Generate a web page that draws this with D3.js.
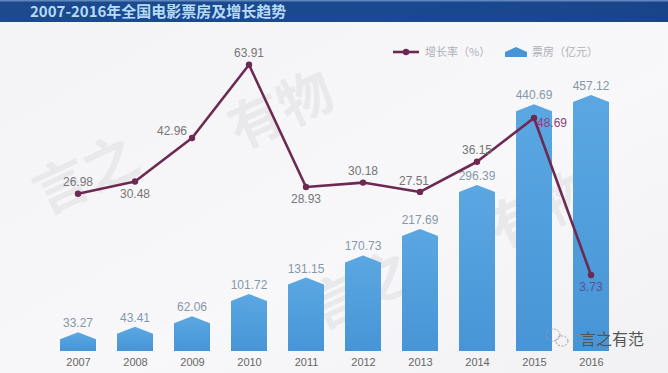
<!DOCTYPE html>
<html>
<head>
<meta charset="utf-8">
<script src="https://cdn.jsdelivr.net/npm/d3@7"></script>
<style>
  body { margin: 0; background: #f6f6f8; }
  svg { display: block; font-family: "Noto Sans CJK SC", "Liberation Sans", sans-serif; }
</style>
</head>
<body>
<div id="chart"></div>
<script>
// data
const years = ["2007","2008","2009","2010","2011","2012","2013","2014","2015","2016"];
const boxOffice = [33.27, 43.41, 62.06, 101.72, 131.15, 170.73, 217.69, 296.39, 440.69, 457.12];
const growth = [26.98, 30.48, 42.96, 63.91, 28.93, 30.18, 27.51, 36.15, 48.69, 3.73];
// where the growth label sits relative to its point
const growthLabelPos = ["above","below","left","above","below","above","aboveLeft","above","right","below"];

const W = 668, H = 373;
const numFont = "Liberation Sans, Arial, sans-serif";

const svg = d3.select("#chart").append("svg")
    .attr("width", W)
    .attr("height", H);

const defs = svg.append("defs");
const bg = defs.append("linearGradient").attr("id", "bg").attr("x1", 0).attr("x2", 1).attr("y1", 0).attr("y2", 1);
bg.append("stop").attr("offset", "0%").attr("stop-color", "#f3f2f5");
bg.append("stop").attr("offset", "60%").attr("stop-color", "#f8f8fa");
bg.append("stop").attr("offset", "100%").attr("stop-color", "#f1f1f3");

const barGrad = defs.append("linearGradient").attr("id", "barGrad").attr("x1", 0).attr("x2", 0).attr("y1", 0).attr("y2", 1);
barGrad.append("stop").attr("offset", "0%").attr("stop-color", "#5aa7e2");
barGrad.append("stop").attr("offset", "100%").attr("stop-color", "#4795d6");

const titleGrad = defs.append("linearGradient").attr("id", "titleGrad").attr("x1", 0).attr("x2", 1);
titleGrad.append("stop").attr("offset", "0%").attr("stop-color", "#1c4a8c");
titleGrad.append("stop").attr("offset", "60%").attr("stop-color", "#1a4991");
titleGrad.append("stop").attr("offset", "100%").attr("stop-color", "#19448a");

svg.append("rect").attr("width", W).attr("height", H).attr("fill", "url(#bg)");

// faint watermark characters
const wm = svg.append("g").attr("fill", "#e9e9ec").attr("font-size", 54).attr("font-weight", "bold");
[["言之", 45, 215], ["有物", 240, 150], ["言之", 320, 330], ["有物", 500, 250]].forEach(function(d) {
  wm.append("text").attr("transform", "translate(" + d[1] + "," + d[2] + ") rotate(-25)").text(d[0]);
});

// title bar
svg.append("rect").attr("x", 0).attr("y", 0).attr("width", W).attr("height", 22).attr("fill", "url(#titleGrad)");
svg.append("rect").attr("x", 0).attr("y", 0).attr("width", W).attr("height", 1.5).attr("fill", "#5f86bd");
svg.append("text")
    .attr("x", 30).attr("y", 16.5)
    .attr("fill", "#b5dbf6")
    .attr("font-size", 15)
    .attr("font-weight", "bold")
    .text("2007-2016年全国电影票房及增长趋势");

// scales
const x = d3.scalePoint().domain(years).range([78, 591]);
const yBar = d3.scaleLinear().domain([0, 500]).range([351, 71]);
const yLine = d3.scaleLinear().domain([0, 70]).range([288, 43.5]);

const barW = 36, peak = 7;

function pentagon(cx, top, bottom) {
  const l = cx - barW / 2, r = cx + barW / 2;
  return "M" + l + "," + bottom + "L" + l + "," + (top + peak) + "L" + cx + "," + top +
         "L" + r + "," + (top + peak) + "L" + r + "," + bottom + "Z";
}

// bars
svg.append("g").selectAll("path")
    .data(boxOffice)
    .enter()
    .append("path")
    .attr("d", function(d, i) { return pentagon(x(years[i]), yBar(d), yBar(0)); })
    .attr("fill", "url(#barGrad)");

svg.append("g").selectAll("text")
    .data(boxOffice)
    .enter()
    .append("text")
    .attr("x", function(d, i) { return x(years[i]); })
    .attr("y", function(d) { return yBar(d) - 5; })
    .attr("text-anchor", "middle")
    .attr("font-family", numFont)
    .attr("font-size", 12)
    .attr("fill", "#8598a8")
    .text(function(d) { return d.toFixed(2); });

// x axis labels
const xAxis = svg.append("g")
    .attr("transform", "translate(0,354)")
    .call(d3.axisBottom(x).tickSize(0).tickPadding(4));
xAxis.select(".domain").remove();
xAxis.selectAll("text")
    .attr("font-size", 11)
    .attr("font-family", numFont)
    .attr("fill", "#666");

// growth line
const line = d3.line()
    .x(function(d, i) { return x(years[i]); })
    .y(function(d) { return yLine(d); });

svg.append("path")
    .datum(growth)
    .attr("d", line)
    .attr("fill", "none")
    .attr("stroke", "#6c2a52")
    .attr("stroke-width", 2.6)
    .attr("stroke-linejoin", "round");

svg.append("g").selectAll("circle")
    .data(growth)
    .enter()
    .append("circle")
    .attr("cx", function(d, i) { return x(years[i]); })
    .attr("cy", function(d) { return yLine(d); })
    .attr("r", 3.2)
    .attr("fill", "#6c2a52");

const offsets = {
  above: [0, -8, "middle"],
  below: [0, 16, "middle"],
  left: [-5, -3, "end"],
  aboveLeft: [-6, -7, "middle"],
  right: [3, 9, "start"]
};

svg.append("g").selectAll("text")
    .data(growth)
    .enter()
    .append("text")
    .attr("x", function(d, i) { return x(years[i]) + offsets[growthLabelPos[i]][0]; })
    .attr("y", function(d, i) { return yLine(d) + offsets[growthLabelPos[i]][1]; })
    .attr("text-anchor", function(d, i) { return offsets[growthLabelPos[i]][2]; })
    .attr("font-family", numFont)
    .attr("font-size", 12)
    .attr("fill", function(d, i) { return i == 8 ? "#8a3f78" : (i == 9 ? "#5f4f9a" : "#767676"); })
    .text(function(d) { return d.toFixed(2); });

// legend
const lg = svg.append("g");
lg.append("line").attr("x1", 393).attr("x2", 419).attr("y1", 52).attr("y2", 52)
    .attr("stroke", "#6c2a52").attr("stroke-width", 2.6);
lg.append("circle").attr("cx", 406).attr("cy", 52).attr("r", 3.2).attr("fill", "#6c2a52");
lg.append("text").attr("x", 425).attr("y", 56).attr("font-size", 11).attr("fill", "#b0b0b8").text("增长率（%）");
lg.append("path").attr("d", "M505,57L505,52L516,47L527,52L527,57Z").attr("fill", "#4795d6");
lg.append("text").attr("x", 532).attr("y", 56).attr("font-size", 11).attr("fill", "#b0b0b8").text("票房（亿元）");

// account mark
const mk = svg.append("g").attr("fill", "none").attr("stroke", "#9a9aa0").attr("stroke-width", 1).attr("stroke-dasharray", "2,1.5");
mk.append("ellipse").attr("cx", 553).attr("cy", 335).attr("rx", 7).attr("ry", 6);
mk.append("ellipse").attr("cx", 562).attr("cy", 341).attr("rx", 6).attr("ry", 5);
svg.append("text").attr("x", 580).attr("y", 345).attr("font-size", 16).attr("fill", "#555").text("言之有范");
</script>
</body>
</html>
